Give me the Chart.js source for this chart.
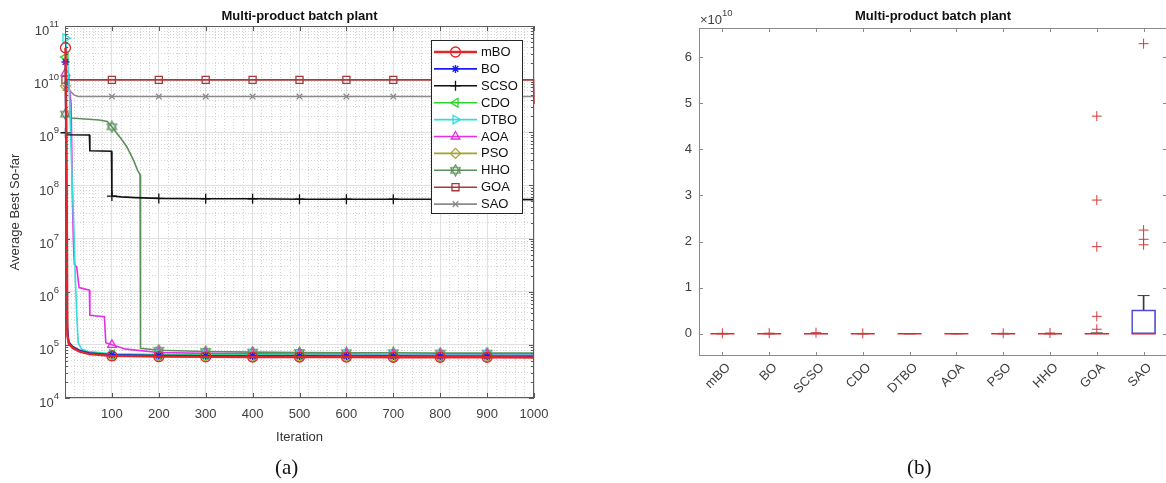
<!DOCTYPE html>
<html>
<head>
<meta charset="utf-8">
<script src="https://cdn.jsdelivr.net/npm/chart.js@4.4.0/dist/chart.umd.min.js"></script>
<style>
	html, body { margin: 0; padding: 0; background: #fff; }
	body { width: 1166px; height: 483px; position: relative; overflow: hidden; }
	#wrap_a { position: absolute; left: 0; top: 0; width: 560px; height: 483px; }
	#wrap_b { position: absolute; left: 600px; top: 0; width: 568px; height: 483px; }
	.cap { position: absolute; top: 455px; font-family: "Liberation Serif", "Times New Roman", serif; font-size: 21px; color: #111; }
</style>
</head>
<body>
<div id="wrap_a"><canvas id="chart_conv"></canvas></div>
<div id="wrap_b"><canvas id="chart_box"></canvas></div>
<div class="cap" style="left:275px">(a)</div>
<div class="cap" style="left:907px">(b)</div>
<script>
// ---- data: convergence curves [iteration, average best so far] ----
var names = ['mBO', 'BO', 'SCSO', 'CDO', 'DTBO', 'AOA', 'PSO', 'HHO', 'GOA', 'SAO'];
var markIters = [1, 100, 200, 300, 400, 500, 600, 700, 800, 900];
var xTicks = [100, 200, 300, 400, 500, 600, 700, 800, 900, 1000];
var yExp = [4, 5, 6, 7, 8, 9, 10, 11];

var mBO = [[1,3.9e10],[3,1.0e9],[5,1.5e5],[8,1.05e5],[16,8.8e4],[30,7.5e4],[52,6.7e4],[100,6.2e4],[200,6.0e4],[300,5.95e4],[400,5.9e4],[500,5.9e4],[600,5.9e4],[700,5.85e4],[800,5.85e4],[900,5.85e4],[1000,5.8e4]];
var BO = [[1,2.1e10],[3,1.7e6],[5,2.2e5],[8,1.15e5],[16,9.3e4],[30,7.9e4],[52,7.0e4],[100,6.5e4],[200,6.3e4],[300,6.25e4],[400,6.2e4],[500,6.2e4],[600,6.15e4],[700,6.15e4],[800,6.1e4],[900,6.1e4],[1000,6.1e4]];
var SCSO = [[1,9.8e8],[6,9.0e8],[52,8.9e8],[53,4.5e8],[99,4.4e8],[100,6.3e7],[120,6.1e7],[150,5.9e7],[200,5.7e7],[300,5.6e7],[400,5.6e7],[500,5.5e7],[600,5.5e7],[700,5.5e7],[800,5.5e7],[900,5.5e7],[1000,5.4e7]];
var CDO = [[1,2.6e10],[3,1.0e8],[5,2.0e5],[8,1.1e5],[16,9.4e4],[30,8.0e4],[52,7.2e4],[100,6.6e4],[200,6.4e4],[300,6.35e4],[400,6.3e4],[500,6.3e4],[600,6.25e4],[700,6.25e4],[800,6.2e4],[900,6.2e4],[1000,6.2e4]];
var DTBO = [[1,5.9e10],[6,2.0e10],[9,7.0e9],[13,5.0e8],[16,8.0e7],[19,1.4e7],[22,1.8e6],[25,4.0e5],[28,1.1e5],[35,8.4e4],[50,7.5e4],[100,6.8e4],[200,6.6e4],[300,6.5e4],[400,6.5e4],[500,6.45e4],[600,6.45e4],[700,6.4e4],[800,6.4e4],[900,6.4e4],[1000,6.4e4]];
var AOA = [[1,1.3e10],[9,7.0e9],[13,3.5e9],[16,5.0e7],[18,8.0e6],[20,3.3e6],[25,2.9e6],[30,1.2e6],[52,1.07e6],[53,3.6e5],[84,3.4e5],[87,1.1e5],[100,1.0e5],[130,8.3e4],[200,7.2e4],[300,6.9e4],[400,6.8e4],[500,6.7e4],[600,6.7e4],[700,6.6e4],[800,6.6e4],[900,6.6e4],[1000,6.5e4]];
var PSO = [[1,7.4e9],[3,1.0e8],[5,1.6e5],[8,1.05e5],[16,8.9e4],[30,7.6e4],[52,6.8e4],[100,6.3e4],[200,6.1e4],[300,6.05e4],[400,6.0e4],[500,6.0e4],[600,6.0e4],[700,5.95e4],[800,5.95e4],[900,5.95e4],[1000,5.9e4]];
var HHO = [[1,2.2e9],[13,1.85e9],[73,1.7e9],[90,1.6e9],[100,1.27e9],[122,7.1e8],[132,5.3e8],[146,3.0e8],[155,1.9e8],[160,1.6e8],[161,8.6e4],[200,7.9e4],[300,7.5e4],[400,7.3e4],[500,7.2e4],[600,7.1e4],[700,7.1e4],[800,7.0e4],[900,7.0e4],[1000,7.0e4]];
var GOA = [[1,9.7e9],[100,9.7e9],[200,9.7e9],[300,9.7e9],[400,9.7e9],[500,9.7e9],[600,9.7e9],[700,9.7e9],[800,9.7e9],[900,9.7e9],[999,9.7e9],[1000,3.4e9]];
var SAO = [[1,6.8e9],[10,6.0e9],[20,5.0e9],[28,4.7e9],[100,4.7e9],[200,4.7e9],[300,4.7e9],[400,4.7e9],[500,4.7e9],[600,4.7e9],[700,4.7e9],[800,4.7e9],[900,4.7e9],[1000,4.7e9]];

// ---- data: box plot of final results ----
var boxQ1 = [0, 0, 0, 0, 0, 0, 0, 0, 0, 0];
var boxMed = [0, 0, 0, 0, 0, 0, 0, 0, 0, 0];
var boxQ3 = [0, 0, 0.6e8, 0, 0, 0, 0, 0, 1.2e8, 0.52e10];
var whiskHi = [0, 0, 1.0e8, 0, 0, 0, 0, 0, 2.0e8, 0.83e10];
var outliers = [[1.2e8], [1.5e8], [2.5e8], [1.0e8], [], [], [1.2e8], [1.8e8],
	[1.0e9, 3.8e9, 1.89e10, 2.90e10, 4.72e10], [1.93e10, 2.05e10, 2.25e10, 6.29e10]];
var yTicksB = [0, 1, 2, 3, 4, 5, 6];

var FONT = '"Liberation Sans", Arial, sans-serif';
Chart.defaults.font.family = FONT;
Chart.defaults.color = '#404040';

// hexagram marker for HHO
function hexagram(color){
	var c = document.createElement('canvas');
	c.width = 13; c.height = 13;
	var g = c.getContext('2d');
	g.strokeStyle = color; g.lineWidth = 1.2;
	[-90, 90].forEach(function(a0){
		g.beginPath();
		for(var k = 0; k < 3; k++){
			var a = (a0 + k * 120) * Math.PI / 180;
			var px = 6.5 + 5.5 * Math.cos(a), py = 6.5 + 5.5 * Math.sin(a);
			k == 0 ? g.moveTo(px, py) : g.lineTo(px, py);
		}
		g.closePath(); g.stroke();
	});
	return c;
}

var styles = [
	{color: '#e3262b', point: 'circle', r: 5, w: 2.4},
	{color: '#1a1aff', point: 'star', r: 4, w: 1.6},
	{color: '#111111', point: 'cross', r: 5, w: 1.6},
	{color: '#2bd62b', point: 'triangle', rot: -90, r: 5, w: 1.6},
	{color: '#35dcdc', point: 'triangle', rot: 90, r: 5, w: 1.6},
	{color: '#e52ee5', point: 'triangle', r: 5, w: 1.6},
	{color: '#a9a12a', point: 'rectRot', r: 5, w: 1.6},
	{color: '#5c8f5c', point: hexagram('#5c8f5c'), r: 5, w: 1.6},
	{color: '#a8383a', point: 'rect', r: 5, w: 1.6},
	{color: '#8a8a8a', point: 'crossRot', r: 4, w: 1.6}
];
var series = [mBO, BO, SCSO, CDO, DTBO, AOA, PSO, HHO, GOA, SAO];

function isDecade(v){
	var l = Math.log10(v);
	return Math.abs(l - Math.round(l)) < 1e-9;
}

function drawPow(ctx, e, xr, y, prefix){
	ctx.font = '13px ' + FONT;
	var wb = ctx.measureText(prefix).width;
	ctx.font = '9.5px ' + FONT;
	var we = ctx.measureText(String(e)).width;
	ctx.textAlign = 'left'; ctx.textBaseline = 'middle';
	ctx.font = '13px ' + FONT;
	ctx.fillText(prefix, xr - we - wb, y + 5.5);
	ctx.font = '9.5px ' + FONT;
	ctx.fillText(String(e), xr - we, y - 1.5);
}

var convDecor = {
	id: 'convDecor',
	afterDraw: function(chart){
		var ctx = chart.ctx, a = chart.chartArea, xs = chart.scales.x, ys = chart.scales.y;
		ctx.save();
		ctx.strokeStyle = '#5a5a5a'; ctx.lineWidth = 1;
		ctx.strokeRect(Math.round(a.left) + 0.5, Math.round(a.top) + 0.5, Math.round(a.right - a.left) - 1, Math.round(a.bottom - a.top) - 1);
		ctx.beginPath();
		xTicks.forEach(function(v){
			var px = Math.round(xs.getPixelForValue(v)) + 0.5;
			ctx.moveTo(px, a.bottom); ctx.lineTo(px, a.bottom - 5);
			ctx.moveTo(px, a.top); ctx.lineTo(px, a.top + 5);
		});
		ys.ticks.forEach(function(t){
			var len = isDecade(t.value) ? 5 : 3;
			var py = Math.round(ys.getPixelForValue(t.value)) + 0.5;
			ctx.moveTo(a.left, py); ctx.lineTo(a.left + len, py);
			ctx.moveTo(a.right, py); ctx.lineTo(a.right - len, py);
		});
		ctx.stroke();

		ctx.fillStyle = '#404040';
		yExp.forEach(function(e){
			drawPow(ctx, e, a.left - 6, ys.getPixelForValue(Math.pow(10, e)), '10');
		});

		ctx.fillStyle = '#111';
		ctx.font = 'bold 13px ' + FONT;
		ctx.textAlign = 'center'; ctx.textBaseline = 'middle';
		ctx.fillText('Multi-product batch plant', (a.left + a.right) / 2, 16.5);

		// legend box inside the plot
		var lx = Math.round(a.right) - 103, ly = Math.round(a.top) + 14, lw = 91, lh = 173;
		ctx.fillStyle = '#fff'; ctx.fillRect(lx, ly, lw, lh);
		ctx.strokeStyle = '#262626'; ctx.lineWidth = 1;
		ctx.strokeRect(lx + 0.5, ly + 0.5, lw, lh);
		chart.data.datasets.forEach(function(ds, i){
			var cy = ly + 12 + i * 16.9;
			ctx.strokeStyle = ds.borderColor; ctx.lineWidth = ds.borderWidth;
			ctx.beginPath(); ctx.moveTo(lx + 3, cy); ctx.lineTo(lx + 46, cy); ctx.stroke();
			ctx.fillStyle = 'rgba(0,0,0,0)'; ctx.lineWidth = 1.3;
			if(Chart.helpers && Chart.helpers.drawPoint){
				Chart.helpers.drawPoint(ctx, {pointStyle: ds.pointStyle, rotation: ds.pointRotation, radius: styles[i].r, borderWidth: 1.3}, lx + 24.5, cy);
			}
			ctx.fillStyle = '#111';
			ctx.font = '13px ' + FONT;
			ctx.textAlign = 'left'; ctx.textBaseline = 'middle';
			ctx.fillText(ds.label, lx + 50, cy + 0.5);
		});
		ctx.restore();
	}
};

var ctx_a = document.getElementById('chart_conv').getContext('2d');
var chart_a = new Chart(ctx_a, {
	type: 'line',
	data: {
		datasets: names.map(function(n, i){
			var st = styles[i];
			return {
				label: n,
				data: series[i].map(function(p){ return {x: p[0], y: p[1]}; }),
				borderColor: st.color,
				backgroundColor: st.color,
				borderWidth: st.w,
				pointStyle: st.point,
				pointRotation: st.rot || 0,
				pointRadius: function(c){ return c.raw && markIters.indexOf(c.raw.x) >= 0 ? st.r : 0; },
				pointBorderColor: st.color,
				pointBackgroundColor: 'rgba(0,0,0,0)',
				pointBorderWidth: 1.3,
				pointHoverRadius: 0,
				tension: 0,
				fill: false,
				clip: false
			};
		})
	},
	options: {
		responsive: true,
		maintainAspectRatio: false,
		animation: false,
		events: [],
		layout: {autoPadding: false, padding: {left: 0, top: 26, right: 26, bottom: 35}},
		plugins: {legend: {display: false}, tooltip: {enabled: false}, title: {display: false}},
		scales: {
			x: {
				type: 'linear', min: 0, max: 1000,
				afterBuildTicks: function(ax){
					ax.ticks = [];
					for(var v = 0; v <= 1000; v += 20) ax.ticks.push({value: v});
				},
				ticks: {
					autoSkip: false, maxRotation: 0, padding: 9,
					font: {size: 13}, color: '#404040',
					callback: function(v){ return xTicks.indexOf(v) >= 0 ? String(v) : ''; }
				},
				grid: {
					drawTicks: false, lineWidth: 1,
					color: function(c){ return c.tick && c.tick.value % 100 == 0 ? '#e0e0e0' : '#d6d6d6'; }
				},
				border: {
					display: false,
					dash: function(c){ return c.tick && c.tick.value % 100 != 0 ? [1, 2] : []; }
				},
				title: {display: true, text: 'Iteration', font: {size: 13}, color: '#333', padding: {top: 4, bottom: 3}},
				afterFit: function(ax){ ax.height = 50; ax.paddingLeft = 0; ax.paddingRight = 0; }
			},
			y: {
				type: 'logarithmic', min: 1e4, max: 1e11,
				afterBuildTicks: function(ax){
					ax.ticks = [];
					yExp.forEach(function(e){
						for(var m = 1; m <= 9; m++){
							if(e == 11 && m > 1) break;
							ax.ticks.push({value: m * Math.pow(10, e)});
						}
					});
				},
				ticks: {autoSkip: false, callback: function(){ return ''; }},
				grid: {
					drawTicks: false, lineWidth: 1,
					color: function(c){ return c.tick && isDecade(c.tick.value) ? '#e0e0e0' : '#d6d6d6'; }
				},
				border: {
					display: false,
					dash: function(c){ return c.tick && !isDecade(c.tick.value) ? [1, 2] : []; }
				},
				title: {display: true, text: 'Average Best So-far', font: {size: 13}, color: '#333', padding: {top: 8, bottom: 0}},
				afterFit: function(ax){ ax.width = 65; ax.paddingTop = 0; ax.paddingBottom = 0; }
			}
		}
	},
	plugins: [convDecor]
});

// ---- box plot ----
var boxDecor = {
	id: 'boxDecor',
	afterDraw: function(chart){
		var ctx = chart.ctx, a = chart.chartArea, xs = chart.scales.x, ys = chart.scales.y;
		ctx.save();
		ctx.strokeStyle = '#8a8a8a'; ctx.lineWidth = 1;
		ctx.strokeRect(Math.round(a.left) + 0.5, Math.round(a.top) + 0.5, Math.round(a.right - a.left) - 1, Math.round(a.bottom - a.top) - 1);
		ctx.beginPath();
		names.forEach(function(n, i){
			var px = Math.round(xs.getPixelForValue(i)) + 0.5;
			ctx.moveTo(px, a.bottom); ctx.lineTo(px, a.bottom - 4);
			ctx.moveTo(px, a.top); ctx.lineTo(px, a.top + 4);
		});
		yTicksB.forEach(function(v){
			var py = Math.round(ys.getPixelForValue(v * 1e10)) + 0.5;
			ctx.moveTo(a.left, py); ctx.lineTo(a.left + 4, py);
			ctx.moveTo(a.right, py); ctx.lineTo(a.right - 4, py);
		});
		ctx.stroke();

		ctx.fillStyle = '#404040';
		ctx.font = '13px ' + FONT;
		var wx = ctx.measureText('\u00d710').width;
		ctx.font = '9.5px ' + FONT;
		var we = ctx.measureText('10').width;
		drawPow(ctx, 10, a.left + wx + we + 1, 14.5, '\u00d710');

		ctx.fillStyle = '#111';
		ctx.font = 'bold 13px ' + FONT;
		ctx.textAlign = 'center'; ctx.textBaseline = 'middle';
		ctx.fillText('Multi-product batch plant', (a.left + a.right) / 2, 16.5);
		ctx.restore();
	}
};

var outlierPts = [];
outliers.forEach(function(list, i){
	list.forEach(function(v){ outlierPts.push({x: names[i], y: v}); });
});

var ctx_b = document.getElementById('chart_box').getContext('2d');
var chart_b = new Chart(ctx_b, {
	type: 'bar',
	data: {
		labels: names,
		datasets: [
		{
			type: 'line', label: 'outliers', order: 0,
			data: outlierPts, showLine: false,
			pointStyle: 'cross', pointRadius: 5, pointBorderWidth: 1,
			pointBorderColor: '#d0393d', pointBackgroundColor: '#d0393d'
		},
		{
			type: 'line', label: 'median', order: 1,
			data: names.map(function(n, i){ return {x: n, y: boxMed[i]}; }), showLine: false,
			pointStyle: 'line', pointRadius: 12, pointBorderWidth: 1.5,
			pointBorderColor: '#e0282c', pointBackgroundColor: '#e0282c'
		},
		{
			type: 'line', label: 'whisker cap', order: 2,
			data: names.map(function(n, i){ return {x: n, y: whiskHi[i]}; }), showLine: false,
			pointStyle: 'line', pointRadius: 6, pointBorderWidth: 1,
			pointBorderColor: '#3a3a3a', pointBackgroundColor: '#3a3a3a'
		},
		{
			type: 'bar', label: 'box', order: 3,
			data: names.map(function(n, i){ return [boxQ1[i], boxQ3[i]]; }),
			borderColor: '#4b4bd6', backgroundColor: 'rgba(0,0,0,0)',
			borderWidth: 1, borderSkipped: false, barThickness: 24, grouped: false
		},
		{
			type: 'bar', label: 'whisker', order: 4,
			data: names.map(function(n, i){ return [boxQ3[i], whiskHi[i]]; }),
			backgroundColor: '#3a3a3a', borderWidth: 0, barThickness: 1, grouped: false
		}]
	},
	options: {
		responsive: true,
		maintainAspectRatio: false,
		animation: false,
		events: [],
		layout: {autoPadding: false, padding: {left: 0, top: 28, right: 1, bottom: 67}},
		plugins: {legend: {display: false}, tooltip: {enabled: false}, title: {display: false}},
		scales: {
			x: {
				type: 'category', offset: true,
				grid: {display: false, drawTicks: false},
				border: {display: false},
				ticks: {minRotation: 45, maxRotation: 45, padding: 4, labelOffset: 6, autoSkip: false, font: {size: 13}, color: '#404040'},
				afterFit: function(ax){ ax.height = 60; ax.paddingLeft = 0; ax.paddingRight = 0; }
			},
			y: {
				type: 'linear', min: -0.48e10, max: 6.63e10,
				afterBuildTicks: function(ax){
					ax.ticks = yTicksB.map(function(v){ return {value: v * 1e10}; });
				},
				grid: {display: false, drawTicks: false},
				border: {display: false},
				ticks: {padding: 7, font: {size: 13}, color: '#404040', callback: function(v){ return String(Math.round(v / 1e10)); }},
				afterFit: function(ax){ ax.width = 99; ax.paddingTop = 0; ax.paddingBottom = 0; }
			}
		}
	},
	plugins: [boxDecor]
});
</script>
</body>
</html>
